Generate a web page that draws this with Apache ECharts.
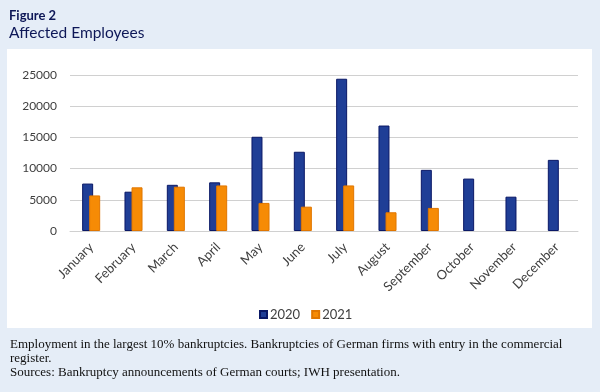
<!DOCTYPE html>
<html><head><meta charset="utf-8">
<script src="https://cdn.jsdelivr.net/npm/echarts@6/dist/echarts.min.js"></script>
<style>html,body{margin:0;padding:0;background:#e5edf7;}#c{width:600px;height:392px;}</style>
</head><body><div id="c"></div>
<script>
const categories = ['January','February','March','April','May','June','July','August','September','October','November','December'];
const values2020 = [7600, 6300, 7400, 7800, 15100, 12700, 24400, 16900, 9800, 8400, 5500, 11400];
const values2021 = [5700, 7000, 7100, 7300, 4500, 3900, 7300, 3000, 3700, null, null, null];
const seriesNames = ['2020', '2021'];
const yTicks = [0, 5000, 10000, 15000, 20000, 25000];

const chart = echarts.init(document.getElementById('c'), null, {renderer:'canvas'});
chart.setOption({
  backgroundColor: '#e5edf7',
  animation: false,
  graphic: [
    {type:'rect', shape:{x:7, y:49, width:585, height:279}, style:{fill:'#ffffff'}, z:-10},
    {type:'text', left:9, top:9, style:{text:'Figure 2', font:'bold 13px Lato', fill:'#0d1757'}},
    {type:'text', left:9, top:25, style:{text:'Affected Employees', font:'15.5px Lato', fill:'#0d1757'}},
    {type:'text', left:10, top:338, style:{text:'Employment in the largest 10% bankruptcies. Bankruptcies of German firms with entry in the commercial\nregister.', font:'13px "Liberation Serif"', lineHeight:13.5, fill:'#111111'}},
    {type:'text', left:10, top:366, style:{text:'Sources: Bankruptcy announcements of German courts; IWH presentation.', font:'13px "Liberation Serif"', fill:'#111111'}}
  ],
  legend: {
    data: seriesNames, left: 254, top: 303, itemWidth: 7, itemHeight: 7, itemGap: 11,
    icon: 'rect',
    textStyle: {fontFamily:'Lato', fontSize:13, color:'#404040', padding:[0,0,0,-2]}
  },
  grid: {left:70, right:22, top:75, bottom:161, containLabel:false},
  xAxis: {
    type:'category', data: categories,
    axisLine:{lineStyle:{color:'#d0d0d0'}},
    axisTick:{show:false},
    axisLabel:{rotate:45, interval:0, margin:14, fontFamily:'Lato', fontSize:13, color:'#404040'}
  },
  yAxis: {
    type:'value', min: yTicks[0], max: yTicks[yTicks.length-1], interval: 5000,
    axisLine:{show:false}, axisTick:{show:false},
    splitLine:{lineStyle:{color:'#d0d0d0'}},
    axisLabel:{margin:13, fontFamily:'Lato', fontSize:12, color:'#404040', formatter: v => String(v)}
  },
  series: [
    {name:seriesNames[0], type:'bar', data: values2020, barWidth:11, barGap:'-36%',
     itemStyle:{color:'#1f3e96', borderColor:'#0a1866', borderWidth:1}},
    {name:seriesNames[1], type:'bar', data: values2021, barWidth:11, barGap:'-36%',
     itemStyle:{color:'#f68b05', borderColor:'#e07600', borderWidth:1}}
  ]
});
</script></body></html>
